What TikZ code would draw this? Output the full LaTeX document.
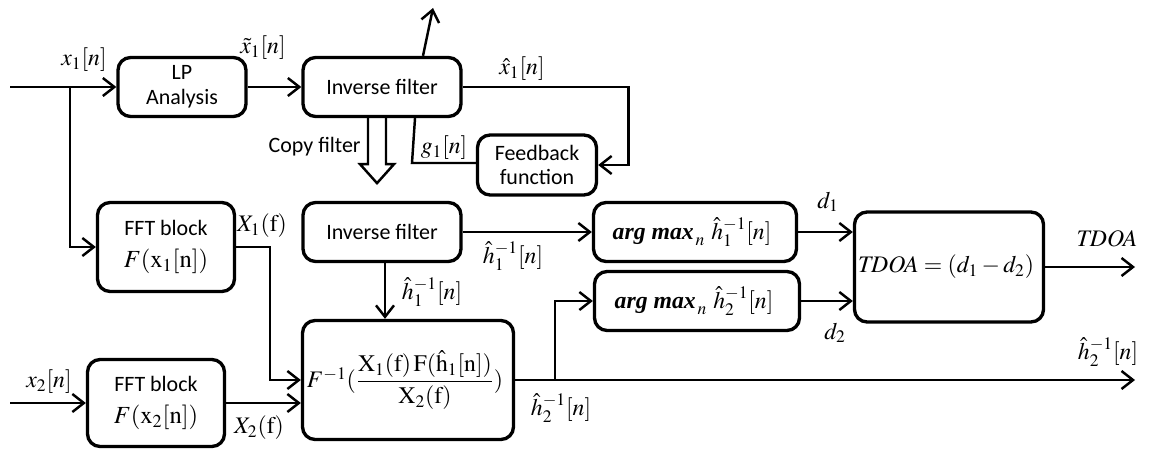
\documentclass[tikz,border=0pt]{standalone}
\usepackage{amsmath}
\usepackage{mathptmx}
\usepackage{fontspec}
\setmainfont{Liberation Serif}
\setsansfont{Carlito}
\usetikzlibrary{positioning,arrows.meta,calc}

\begin{document}
\begin{tikzpicture}[
        x=0.02cm, y=-0.02cm,
        font=\sffamily\fontsize{12.5}{14}\selectfont,
        >={Straight Barb[length=2.3mm,width=3.6mm]},
        blk/.style={
            draw=black,
            line width=1.9pt,
            rounded corners=0.25cm,
            align=center,
            inner sep=2pt,
            minimum height=1.18cm
        },
        arrow/.style={
            ->,
            line width=1.4pt
        },
        wire/.style={
            line width=1.4pt
        },
        lbl/.style={
            font=\fontsize{13.5}{15}\selectfont,
            inner sep=0pt
        },
        mth/.style={
            font=\fontsize{13.5}{17}\selectfont
        }
    ]

    \useasboundingbox (0,0) rectangle (1151,449);

    % Obere Reihe
    \node[blk, minimum width=2.56cm] (lp) at (182,87) {LP\\Analysis};
    \node[blk, minimum width=3.16cm] (inv1) at (382,87) {Inverse filter};
    \node[blk, minimum width=2.38cm, minimum height=1.2cm] (fb) at (537,165) {Feedback\\function};

    % Mittlere Reihe
    \node[blk, minimum width=2.74cm, minimum height=1.78cm] (fft1) at (166,247) {
        FFT block\\[4pt]
        {\fontsize{14}{17}\selectfont $F(\mathrm{x}_1[\mathrm{n}])$}
    };
    \node[blk, minimum width=3.16cm] (inv2) at (382,232) {Inverse filter};
    \node[blk, mth, minimum width=4.06cm] (am1) at (695,232) {
        $\text{\textbf{\textit{arg max}}}_{\,n}\ \hat{h}_1^{-1}[n]$
    };
    \node[blk, mth, minimum width=4.1cm] (am2) at (697,301) {
        $\text{\textbf{\textit{arg max}}}_{\,n}\ \hat{h}_2^{-1}[n]$
    };
    \node[blk, mth, minimum width=3.56cm, minimum height=2.2cm] (tdoa) at (949,267) {
        $\mathit{TDOA}=(d_1-d_2)$
    };

    % Untere Reihe
    \node[blk, mth, minimum width=4.22cm, minimum height=2.38cm, inner sep=0pt] (big) at (408,380) {
        $F^{-1}(\dfrac{\mathrm{X}_1(\mathrm{f})\,\mathrm{F}(\hat{\mathrm{h}}_1[\mathrm{n}])}{\mathrm{X}_2(\mathrm{f})})$
    };
    \node[blk, minimum width=2.74cm, minimum height=1.74cm] (fft2) at (156,403) {
        FFT block\\[4pt]
        {\fontsize{14}{17}\selectfont $F(\mathrm{x}_2[\mathrm{n}])$}
    };

    % Hilfspunkte
    \coordinate (in1) at (10,87);
    \coordinate (in2) at (10,403);
    \coordinate (br1) at (70,87);
    \coordinate (up) at (433,8);
    \coordinate (gk) at (412,163);
    \coordinate (br2) at (555,380);
    \coordinate (out1) at (1135,267);
    \coordinate (out2) at (1135,380);

    % Pfeile
    \draw[arrow] (in1) -- (lp.west);
    \draw[arrow] (lp.east) -- (inv1.west);
    \draw[arrow] ($(inv1.north)+(41,0)$) -- (up);
    \draw[arrow] (inv1.east) -- ++(166,0) |- (fb.east);
    \draw[wire] ($(inv1.south)+(33,0)$) -- (gk) -- (gk -| fb.west);
    \draw[line width=1.4pt] ($(inv1.south)+(-14,0)$) -- ++(0,46) -- ++(-8,0)
        -- ++(17,19) -- ++(17,-19) -- ++(-8,0) -- ++(0,-46);
    \draw[arrow] (br1) |- (fft1.west);
    \draw[arrow] (fft1.east) -- (270,247) |- (big.west);
    \draw[arrow] (in2) -- (fft2.west);
    \draw[arrow] (fft2.east) -- (fft2.east -| big.west);
    \draw[arrow] ($(inv2.south)+(3,0)$) -- ($(inv2.south |- big.north)+(3,0)$);
    \draw[arrow] (inv2.east) -- (am1.west);
    \draw[arrow] (big.east) -- (out2);
    \draw[arrow] (br2) |- (am2.west);
    \draw[arrow] (am1.east) -- (am1.east -| tdoa.west);
    \draw[arrow] (am2.east) -- (am2.east -| tdoa.west);
    \draw[arrow] (tdoa.east) -- (out1);

    % Beschriftungen
    \node[lbl] (lx1) at (84,60) {$x_1[n]$};
    \node[lbl] (lxt) at (263,48) {$\tilde{x}_1[n]$};
    \node[lbl] (lxh) at (522,69) {$\hat{x}_1[n]$};
    \node[inner sep=0pt, anchor=east] (lcopy) at (361,147) {Copy filter};
    \node[lbl] (lg1) at (444,148) {$g_1[n]$};
    \node[lbl] (lX1) at (262,226) {$X_1(\mathrm{f})$};
    \node[lbl] (lh1a) at (432,292) {$\hat{h}_1^{-1}[n]$};
    \node[lbl] (lh1b) at (513,256) {$\hat{h}_1^{-1}[n]$};
    \node[lbl] (lh2a) at (561,408) {$\hat{h}_2^{-1}[n]$};
    \node[lbl] (lh2b) at (1108,352) {$\hat{h}_2^{-1}[n]$};
    \node[lbl] (ld1) at (828,202) {$d_1$};
    \node[lbl] (ld2) at (835,333) {$d_2$};
    \node[lbl] (ltd) at (1107,239) {$\mathit{TDOA}$};
    \node[lbl] (lx2) at (49,382) {$x_2[n]$};
    \node[lbl] (lX2) at (259,428) {$X_2(\mathrm{f})$};

\end{tikzpicture}
\end{document}
